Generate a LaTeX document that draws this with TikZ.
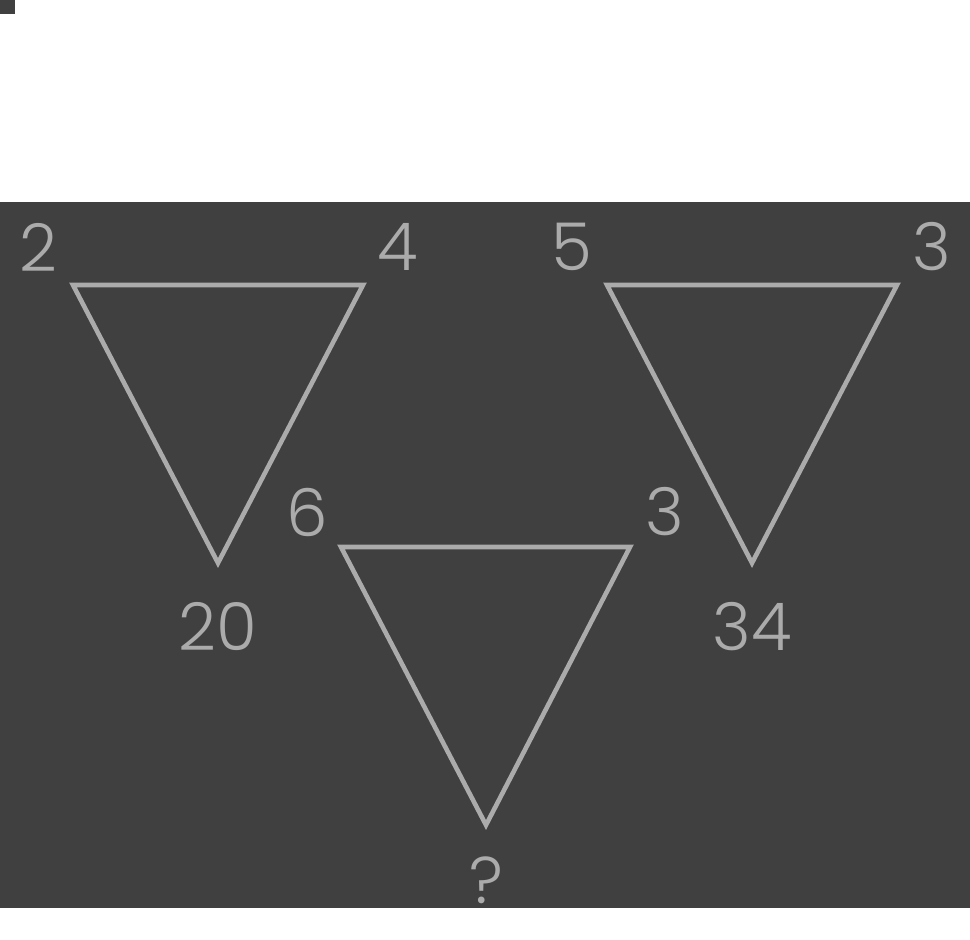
\documentclass[tikz,border=0pt]{standalone}
\usepackage{fontspec}
\setmainfont{Poppins Light}
\usetikzlibrary{positioning}

\begin{document}
\begin{tikzpicture}[
                x=0.5pt, y=-0.5pt,
                font=\fontsize{33}{38}\selectfont,
                tri/.style={draw=linegray, line width=2.3pt, line join=miter},
                num/.style={text=linegray, inner sep=0pt, anchor=center},
                ]
                \definecolor{bggray}{HTML}{404040}
                \definecolor{linegray}{HTML}{ABABAB}
                \useasboundingbox (0,0) rectangle (970,940);

                \fill[bggray] (0,0) rectangle (15,14);
                \fill[bggray] (0,202) rectangle (970,908);

                % left triangle
                \draw[tri] (73,285) -- (363,285) -- (218,563) -- cycle;
                \node[num] (a1) at (38,247) {2};
                \node[num] (a2) at (398,247) {4};
                \node[num] (a3) at (218,627) {20};

                % right triangle
                \draw[tri] (607,285) -- (897,285) -- (752,563) -- cycle;
                \node[num] (b1) at (572,247) {5};
                \node[num] (b2) at (932,247) {3};
                \node[num] (b3) at (752,627) {34};

                % middle triangle
                \draw[tri] (341,547) -- (630,547) -- (486,825) -- cycle;
                \node[num] (c1) at (307,512) {6};
                \node[num] (c2) at (665,512) {3};
                \node[num] (c3) at (486,880) {?};
            \end{tikzpicture}
\end{document}
